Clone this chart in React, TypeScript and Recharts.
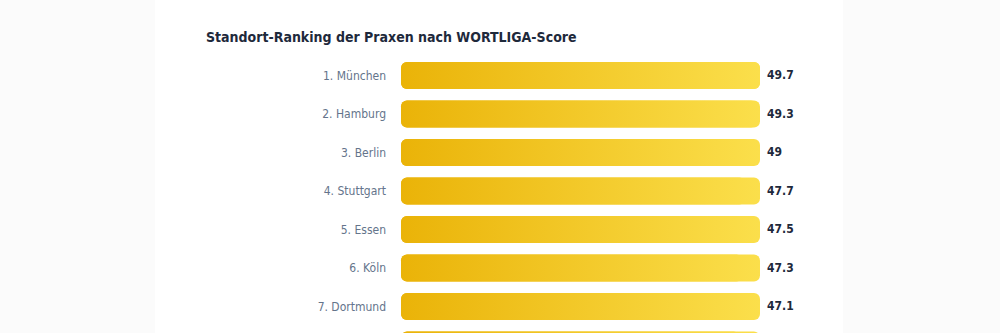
import { BarChart, Bar, XAxis, YAxis } from 'recharts'

const cities = ['1. München', '2. Hamburg', '3. Berlin', '4. Stuttgart', '5. Essen', '6. Köln', '7. Dortmund', '8. Frankfurt']
const scores = [49.7, 49.3, 49, 47.7, 47.5, 47.3, 47.1, 46.9]

const data = cities.map((name, i) => ({ name, score: scores[i] }))

const FONT = "'DejaVu Sans Condensed', 'DejaVu Sans', sans-serif"
const PLOT_LEFT = 246
const PLOT_RIGHT = 605

const ValueTick = (props: any) => {
  const { x, y, payload } = props
  const row = data.find((d) => d.name === payload.value)
  return (
    <text x={x} y={y} dy="0.35em" textAnchor="start" fill="#1e293b" fontSize={12} fontWeight={700} fontFamily={FONT}>
      {row ? row.score : ''}
    </text>
  )
}

export default function App() {
  return (
    <div style={{ position: 'absolute', left: 0, top: 0, width: 1000, height: 333, background: '#fbfbfb', overflow: 'hidden' }}>
      <div style={{ position: 'absolute', left: 155, top: 0, width: 688, height: 400, background: '#ffffff' }}>
        <div
          style={{
            position: 'absolute',
            left: 51,
            top: 27,
            fontFamily: FONT,
            fontWeight: 700,
            fontSize: 14,
            color: '#1e293b',
            whiteSpace: 'nowrap',
            lineHeight: '20px',
          }}
        >
          Standort-Ranking der Praxen nach WORTLIGA-Score
        </div>
        <BarChart
          width={688}
          height={364}
          data={data}
          layout="vertical"
          margin={{ top: 56, right: 0, bottom: 0, left: 0 }}
          style={{ position: 'absolute', left: 0, top: 0 }}
        >
          <defs>
            <linearGradient id="gold" gradientUnits="userSpaceOnUse" x1={PLOT_LEFT} y1={0} x2={PLOT_RIGHT} y2={0}>
              <stop offset="0%" stopColor="#eab308" />
              <stop offset="100%" stopColor="#fbdf4b" />
            </linearGradient>
          </defs>
          <XAxis type="number" hide domain={[0, 'dataMax']} />
          <YAxis
            yAxisId="left"
            type="category"
            dataKey="name"
            width={PLOT_LEFT}
            axisLine={false}
            tickLine={false}
            tickMargin={9}
            tick={{ fill: '#64748b', fontSize: 12, fontFamily: FONT }}
          />
          <YAxis
            yAxisId="right"
            orientation="right"
            type="category"
            dataKey="name"
            width={688 - PLOT_RIGHT}
            axisLine={false}
            tickLine={false}
            tickMargin={1}
            tick={<ValueTick />}
          />
          <Bar
            yAxisId="left"
            dataKey="score"
            barSize={27}
            radius={6}
            fill="url(#gold)"
            background={{ fill: 'url(#gold)', radius: 6 }}
            isAnimationActive={false}
          />
        </BarChart>
      </div>
    </div>
  )
}
